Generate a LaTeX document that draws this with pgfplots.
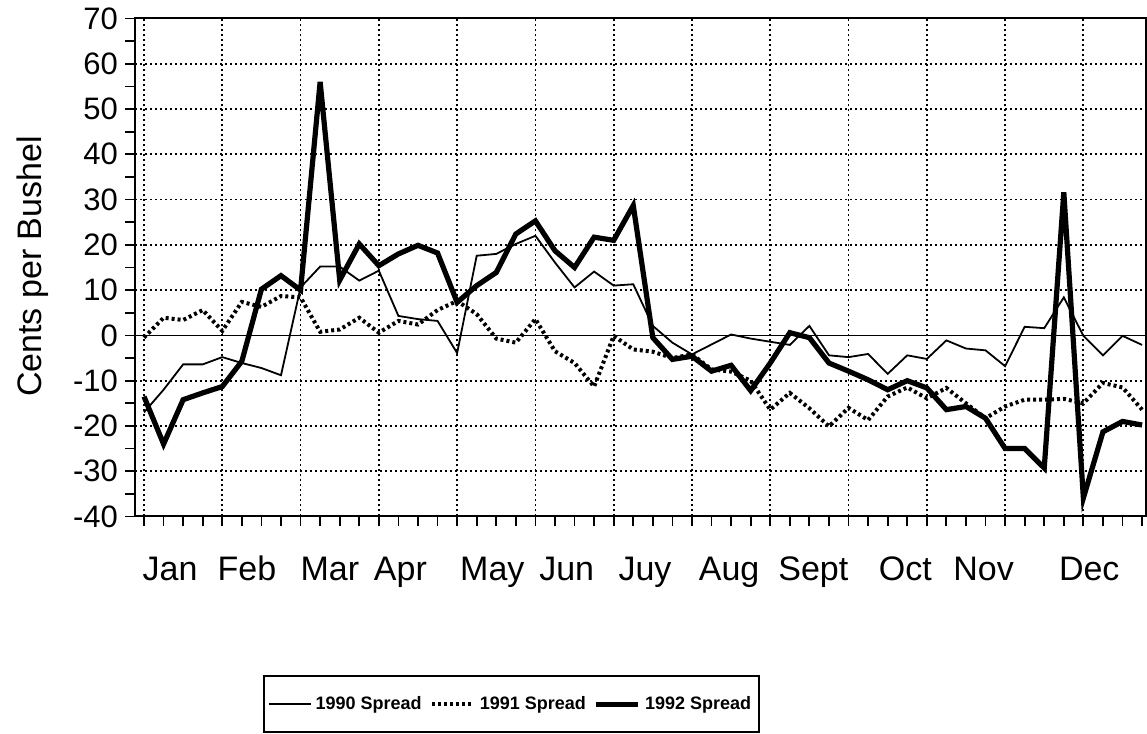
\documentclass[border=0pt]{standalone}
\usepackage{fontspec}
\setmainfont{Liberation Sans}
\usepackage{pgfplots}
\pgfplotsset{compat=1.18}
\pgfplotstableread{
i s90 s91 s92
0 -17 -0.5 -13.5
1 -12 3.9 -24
2 -6.4 3.4 -14.2
3 -6.4 5.6 -12.7
4 -4.8 1.0 -11.3
5 -6.1 7.4 -5.7
6 -7.2 6.3 10.2
7 -8.8 8.7 13.2
8 10.6 8.4 10
9 15.2 0.8 56
10 15.2 1.3 12.2
11 12.1 3.9 20.2
12 14.3 0.6 15.4
13 4.3 3.2 18
14 3.6 2.4 19.9
15 3.2 5.6 18.2
16 -3.9 7.6 7.3
17 17.6 4.7 11
18 18 -0.7 13.9
19 20.2 -1.6 22.4
20 22 3.6 25.3
21 16.1 -3.5 18.7
22 10.6 -6.1 15
23 14.1 -11.3 21.7
24 11 -0.1 21
25 11.3 -3.1 28.7
26 2.1 -3.6 -0.5
27 -1.6 -5 -5.3
28 -4.2 -4.2 -4.6
29 -2 -7.5 -7.9
30 0.2 -8 -6.6
31 -0.7 -10 -12.2
32 -1.4 -16.4 -6.1
33 -2.1 -12.7 0.6
34 2.1 -16.1 -0.5
35 -4.4 -20.1 -6.1
36 -4.8 -16 -7.9
37 -4.1 -18.7 -9.8
38 -8.5 -13.5 -12
39 -4.4 -11.5 -10
40 -5.2 -13.9 -11.6
41 -1.1 -11.6 -16.4
42 -2.9 -15 -15.7
43 -3.3 -18.3 -18.3
44 -6.8 -15.7 -25
45 1.9 -14.2 -25
46 1.6 -14.2 -29.3
47 8.4 -14 31.6
48 -0.1 -15 -35.9
49 -4.4 -10.5 -21.3
50 -0.1 -11.5 -19
51 -2.1 -16.4 -19.8
}\spread
\begin{document}
\begin{tikzpicture}
\path[use as bounding box] (0,0) rectangle (573.5pt,367pt);
\begin{axis}[
  at={(67.5pt,108.75pt)}, anchor=south west,
  scale only axis, width=505.5pt, height=249pt,
  xmin=-0.46, xmax=51.2, ymin=-40, ymax=70,
  axis line style={line width=1pt},
  xtick pos=bottom, ytick pos=left,
  xtick={1.33,5.26,9.5,13.1,17.8,21.6,25.6,29.9,34.2,38.9,42.9,48.3},
  xticklabels={Jan,Feb,Mar,Apr,May,Jun,Juy,Aug,Sept,Oct,Nov,Dec},
  major x tick style={draw=none},
  minor xtick={0,...,51},
  ytick={-40,-30,-20,-10,0,10,20,30,40,50,60,70},
  yticklabels={-40,-30,-20,-10,0,10,20,30,40,50,60,70},
  minor ytick={-35,-25,-15,-5,5,15,25,35,45,55,65},
  tick align=outside, major tick length=5pt, minor tick length=5pt,
  tick style={line width=0.9pt, black},
  ymajorgrids,
  grid style={line width=0.9pt, dash pattern=on 1pt off 1.5pt, black},
  extra x ticks={0,4,...,48}, extra x tick labels={},
  extra x tick style={grid=major},
  extra y ticks={0}, extra y tick labels={},
  extra y tick style={grid=major, grid style={solid, line width=0.9pt, black}},
  xticklabel style={font=\fontsize{17}{20}\selectfont, anchor=base, yshift=-27pt},
  yticklabel style={font=\fontsize{15.5}{18}\selectfont, anchor=east},
  ylabel={Cents per Bushel},
  ylabel style={font=\fontsize{17}{20}\selectfont, at={(axis description cs:-0.092,0.502)}, anchor=base},
  legend columns=3,
  legend image code/.code={\draw[#1] (0pt,0pt) -- (21pt,0pt);},
  legend style={at={(0.3724,-0.377)}, anchor=center, draw=black, line width=0.9pt,
    font=\bfseries\fontsize{9}{11}\selectfont, inner xsep=2pt, inner ysep=8pt,
    /tikz/every even column/.append style={column sep=2pt}},
]
\addplot[black, line width=0.9pt] table[x=i, y=s90] {\spread};
\addlegendentry{1990 Spread}
\addplot[black, line width=2pt, dash pattern=on 1.5pt off 1.5pt] table[x=i, y=s91] {\spread};
\addlegendentry{1991 Spread}
\addplot[black, line width=2.6pt] table[x=i, y=s92] {\spread};
\addlegendentry{1992 Spread}
\end{axis}
\end{tikzpicture}
\end{document}
